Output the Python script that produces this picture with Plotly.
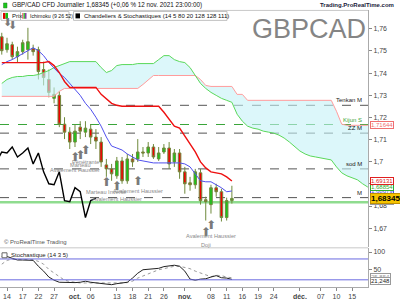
import plotly.graph_objects as go

# ---------------- DATA ----------------
# trading-day index: 0 = 14 sept. 2021 ... 43 = 12 nov. 2021
first_idx = -1
open_ = [1.75641,1.75058,1.75283,1.74744,1.74969,1.75058,1.75103,1.75058,1.74161,1.73713,
         1.72861,1.72996,1.71695,1.71336,1.70888,1.71561,1.71336,1.71471,1.71112,1.70888,
         1.69857,1.69677,1.69363,1.70036,1.69139,1.70126,1.70126,1.70440,1.70395,1.70664,
         1.70126,1.70440,1.70619,1.69991,1.70395,1.69543,1.69049,1.68960,1.69498,1.68287,
         1.68063,1.68825,1.68646,1.67480,1.68244]
high = [1.75821,1.75596,1.75417,1.75193,1.75507,1.76045,1.75283,1.75193,1.74520,1.74161,
        1.73354,1.73175,1.72009,1.71561,1.71695,1.71830,1.71830,1.71695,1.71471,1.71112,
        1.70126,1.69901,1.70215,1.70215,1.70350,1.70350,1.71022,1.70664,1.70888,1.70798,
        1.70664,1.70798,1.70888,1.70574,1.70574,1.69767,1.69318,1.69677,1.69677,1.68422,
        1.68960,1.69004,1.68780,1.68377,1.68915]
low = [1.74834,1.74924,1.74610,1.74475,1.74834,1.74610,1.74789,1.73713,1.73444,1.72906,
       1.72637,1.71561,1.71022,1.70574,1.70664,1.71022,1.71112,1.70798,1.70574,1.69767,
       1.69318,1.69139,1.69229,1.69004,1.69004,1.69767,1.69991,1.70215,1.70215,1.70126,
       1.70036,1.70350,1.69677,1.69767,1.69229,1.68556,1.68691,1.68780,1.68063,1.67345,
       1.67659,1.68422,1.67300,1.67345,1.68108]
close = [1.75013,1.75327,1.74744,1.74969,1.75372,1.75417,1.74969,1.74072,1.73803,1.73130,
         1.73040,1.71695,1.71336,1.70888,1.71381,1.71381,1.71516,1.71112,1.70933,1.69991,
         1.69677,1.69453,1.70036,1.69139,1.70126,1.69991,1.70440,1.70395,1.70664,1.70215,
         1.70395,1.70619,1.69901,1.70395,1.69543,1.69004,1.68960,1.69543,1.68242,1.68197,
         1.68825,1.68646,1.67480,1.68244,1.68345]

tenkan = [1.74386,1.74520,1.74610,1.74744,1.74879,1.75013,1.75148,1.75013,1.74789,1.74475,
          1.74206,1.73982,1.73803,1.73534,1.73265,1.72996,1.72637,1.72368,1.72009,1.71605,
          1.71112,1.70709,1.70619,1.70529,1.70350,1.70215,1.70081,1.70036,1.69991,1.69946,
          1.69946,1.69946,1.69946,1.69946,1.69946,1.69901,1.69767,1.69453,1.69139,1.69094,
          1.69094,1.68960,1.68825,1.68646,1.68679]
kijun = [1.74475]*9 + [1.74520,1.74341,1.74027,1.73623,1.73354] + [1.73354]*5 + \
        [1.73040,1.72816,1.72637,1.72547] + [1.72502]*8 + \
        [1.72233,1.71919,1.71605,1.71516,1.71157,1.70843,1.70440,1.69991,1.69722,1.69543,
         1.69498,1.69453,1.69318,1.69131]
senkou_a = [1.73534,1.73713,1.73803,1.73848,1.73848,1.73892,1.73892,1.73937,1.74027,1.74117,
            1.74251,1.74341,1.74430,1.74520,1.74520,1.74520,1.74520,1.74520,1.74520,1.74251,
            1.74027,1.74117,1.74341,1.74386,1.74386,1.74386,1.74430,1.74430,1.74430,1.74430,
            1.74610,1.74789,1.74789,1.74610,1.74520,1.74475,1.74251,1.73892,1.73534,1.73309,
            1.73130,1.72996,1.72861,1.72771,1.72682,1.72144,1.71830,1.71605,1.71516,1.71471,
            1.71381,1.71336,1.71291,1.71202,1.71067,1.70888,1.70664,1.70484,1.70350,1.70260,
            1.70215,1.70170,1.70126,1.70081,1.69767,1.69498,1.69363,1.69274,1.69184,1.69004,
            1.68854]
senkou_b = [1.72951]*11 + [1.73175] + [1.73309]*15 + [1.73489,1.73713] + [1.73892]*9 + \
           [1.73713,1.73444] + [1.73399]*5 + [1.73040,1.73040] + [1.72771]*17 + \
           [1.72278,1.71695] + [1.71644]*5

stoch_k = [87,87,82,77,77,77,76,59,45,28,19,13,12,11,12,13,16,13,11,9,8,6,9,11,13,25,39,49,
           51,53,53,58,59,62,59,45,22,19,22,23,28,32,26,25,21.248]
stoch_d = [65,76,79,79,79,79,78,73,65,50,39,28,19,15,12,11,11,11,11,10,9,9,9,11,12,16,25,31,
           36,43,49,52,55,59,59,56,52,45,39,33,29,33,32,28,25.854]
chikou_shift = 26
stoch_levels = [80, 20]

# horizontal levels
level_prices = [1.72547, 1.71680, 1.71291, 1.69677, 1.68380]
level_labels = ["Tenkan M", "Kijun S", "ZZ M", "sod M", "M"]
support_price = 1.68175

# candle pattern signals
sig_idx = [13, 14, 15, 19, 21, 25, 38, 39]
sig_price = [1.7017, 1.7026, 1.7048, 1.6905, 1.6887, 1.6909, 1.6676, 1.6708]
sig_label = ["Avalement Haussier", "Marteau", "Pénétrante", "Marteau Inversé",
             "Avalement Haussier", "Avalement Haussier", "Doji", "Avalement Haussier"]
down_idx = [0, 1]
down_price = [1.7627, 1.7613]

xtick_idx = [0, 3, 6, 9, 13, 16, 21, 24, 27, 30, 34, 39, 42, 45, 48, 51, 56, 60, 63, 66]
xtick_txt = ["14", "17", "22", "27", "<b>oct.</b>", "06", "13", "18", "21", "26", "<b>nov.</b>",
             "08", "11", "16", "19", "24", "<b>déc.</b>", "07", "10", "15"]
ytick_vals = [1.67, 1.68, 1.69, 1.70, 1.71, 1.72, 1.73, 1.74, 1.75, 1.76]
ytick_txt = ["1,67", "1,68", "1,69", "1,7", "1,71", "1,72", "1,73", "1,74", "1,75", "1,76"]

# ---------------- LAYOUT HELPERS ----------------
W, H = 400, 300
def px(x): return x / W
def py(y): return 1 - y / H

FONT = "Liberation Sans, Arial, sans-serif"
n = len(close)
idx = list(range(first_idx, first_idx + n))
idx_cloud = list(range(first_idx, first_idx + len(senkou_a)))
idx_chikou = [i - chikou_shift for i in idx]

def fmt(v, d=5):
    return f"{v:.{d}f}".replace(".", ",")

fig = go.Figure()

# cloud
fig.add_trace(go.Scatter(x=idx_cloud, y=senkou_b, mode="lines",
                         line=dict(color="#ff9c9c", width=1), hoverinfo="skip"))
fig.add_trace(go.Scatter(x=idx_cloud, y=senkou_a, mode="lines", fill="tonexty",
                         fillcolor="rgba(196,242,247,0.6)",
                         line=dict(color="#5ad85a", width=1), hoverinfo="skip"))
# chikou
fig.add_trace(go.Scatter(x=idx_chikou, y=close, mode="lines",
                         line=dict(color="#000000", width=1.4)))
# tenkan / kijun
fig.add_trace(go.Scatter(x=idx, y=tenkan, mode="lines", line=dict(color="#5050ee", width=1)))
fig.add_trace(go.Scatter(x=idx, y=kijun, mode="lines", line=dict(color="#ee1010", width=1.4)))
# candles
fig.add_trace(go.Candlestick(
    x=idx, open=open_, high=high, low=low, close=close,
    increasing=dict(line=dict(color="#6f8a3c", width=1), fillcolor="#18c818"),
    decreasing=dict(line=dict(color="#6f8a3c", width=1), fillcolor="#f00000"),
    whiskerwidth=0))
# signals
fig.add_trace(go.Scatter(x=sig_idx, y=sig_price, mode="text", text=["⬆"] * len(sig_idx),
                         textfont=dict(family="DejaVu Sans", size=12, color="#7a7a7a")))
# stochastic
fig.add_trace(go.Scatter(x=idx, y=stoch_d, mode="lines", xaxis="x2", yaxis="y2",
                         line=dict(color="#999999", width=1, dash="dot")))
fig.add_trace(go.Scatter(x=idx, y=stoch_k, mode="lines", xaxis="x2", yaxis="y2",
                         line=dict(color="#222222", width=1)))

xr = [-1.338, 69.025]
fig.update_layout(
    width=W, height=H, margin=dict(l=0, r=0, t=0, b=0),
    paper_bgcolor="white", plot_bgcolor="white", showlegend=False,
    font=dict(family=FONT, size=7, color="#333"),
    xaxis=dict(domain=[0, 0.92], range=xr, showticklabels=False, showgrid=False,
               zeroline=False, rangeslider=dict(visible=False), anchor="y", showline=False),
    yaxis=dict(domain=[py(249), py(10.5)], range=[1.66135, 1.76830], side="right",
               anchor="x", tickvals=ytick_vals, ticktext=ytick_txt, ticks="outside",
               ticklen=3, tickcolor="#888", showgrid=False, zeroline=False, showline=True,
               linecolor="#aaa", linewidth=1, tickfont=dict(size=7, color="#444")),
    xaxis2=dict(domain=[0, 0.92], range=xr, anchor="y2", tickvals=xtick_idx,
                ticktext=xtick_txt, ticks="outside", ticklen=3, tickcolor="#888",
                showgrid=False, zeroline=False, showline=True, linecolor="#aaa",
                tickfont=dict(size=7, color="#444")),
    yaxis2=dict(domain=[py(289), py(250)], range=[-0.86, 110.57], side="right",
                anchor="x2", tickvals=[50, 100], ticktext=["50", "100"], ticks="outside",
                ticklen=3, tickcolor="#888", showgrid=False, zeroline=False, showline=True,
                linecolor="#aaa", tickfont=dict(size=7, color="#444")),
)

shapes = []
# pane frame lines
shapes.append(dict(type="line", xref="paper", yref="paper", x0=0, x1=0.92,
                   y0=py(10.5), y1=py(10.5), line=dict(color="#c8c8c8", width=1)))
shapes.append(dict(type="line", xref="paper", yref="paper", x0=0, x1=0.92,
                   y0=py(249.5), y1=py(249.5), line=dict(color="#c8c8c8", width=1)))
# support line
shapes.append(dict(type="line", xref="paper", yref="y", x0=0, x1=0.92,
                   y0=support_price, y1=support_price, layer="below",
                   line=dict(color="#8fdc8f", width=2.5)))
# dashed levels
for p, lab in zip(level_prices, level_labels):
    col = "#3aa53a" if lab.endswith("S") else "#555555"
    shapes.append(dict(type="line", xref="paper", yref="y", x0=0, x1=0.92, y0=p, y1=p,
                       layer="below", line=dict(color=col, width=1, dash="dash")))
# stochastic levels
for lv in stoch_levels:
    shapes.append(dict(type="line", xref="paper", yref="y2", x0=0, x1=0.92, y0=lv, y1=lv,
                       line=dict(color="#6a6ae0", width=1)))
# legend boxes
for x0, x1 in [(1, 20.5), (20.5, 69), (73.5, 227)]:
    shapes.append(dict(type="rect", xref="paper", yref="paper", x0=px(x0), x1=px(x1),
                       y0=py(20.5), y1=py(11.5), line=dict(color="#c0c0c0", width=1),
                       fillcolor="rgba(255,255,255,0.85)"))
# legend icons
shapes += [
    dict(type="rect", xref="paper", yref="paper", x0=px(3), x1=px(5.5), y0=py(19), y1=py(13),
         fillcolor="#e00000", line=dict(width=0)),
    dict(type="rect", xref="paper", yref="paper", x0=px(5.5), x1=px(8), y0=py(19), y1=py(13),
         fillcolor="#10c010", line=dict(width=0)),
    dict(type="rect", xref="paper", yref="paper", x0=px(22), x1=px(23.5), y0=py(19), y1=py(13),
         fillcolor="#ff8080", line=dict(width=0)),
    dict(type="rect", xref="paper", yref="paper", x0=px(23.5), x1=px(25), y0=py(19), y1=py(13),
         fillcolor="#40c040", line=dict(width=0)),
    dict(type="rect", xref="paper", yref="paper", x0=px(25), x1=px(26.5), y0=py(19), y1=py(13),
         fillcolor="#8040a0", line=dict(width=0)),
    dict(type="rect", xref="paper", yref="paper", x0=px(75.5), x1=px(80), y0=py(18.5), y1=py(13.5),
         fillcolor="#000000", line=dict(width=0)),
    # header candle icon
    dict(type="rect", xref="paper", yref="paper", x0=px(3.5), x1=px(7), y0=py(8), y1=py(3),
         fillcolor="#18c818", line=dict(color="#2a7a2a", width=0.5)),
    # stochastic legend icon
    dict(type="rect", xref="paper", yref="paper", x0=px(2), x1=px(7), y0=py(259.5), y1=py(254.5),
         fillcolor="#ffffff", line=dict(color="#666", width=1)),
]
fig.update_layout(shapes=shapes)

ann = []
def A(**k):
    base = dict(showarrow=False, font=dict(family=FONT, size=6.5, color="#222"))
    base.update(k)
    ann.append(base)

# header
A(x=px(10), y=py(5), xref="paper", yref="paper", xanchor="left", yanchor="middle",
  text=f"GBP/CAD CFD Journalier {fmt(close[-1])} (+0,06 % 12 nov. 2021 23:00:00)",
  font=dict(family=FONT, size=6.3, color="#111"))
A(x=px(396), y=py(5), xref="paper", yref="paper", xanchor="right", yanchor="middle",
  text="<b>Trading.ProRealTime.com</b>", font=dict(family=FONT, size=6, color="#1a1a3a"))
# legend texts
A(x=px(9.5), y=py(16), xref="paper", yref="paper", xanchor="left", yanchor="middle", text="Prix",
  font=dict(family=FONT, size=6, color="#111"))
A(x=px(27.5), y=py(16), xref="paper", yref="paper", xanchor="left", yanchor="middle",
  text="Ichimoku (9 26 52)", font=dict(family=FONT, size=5.2, color="#111"))
A(x=px(81.5), y=py(16), xref="paper", yref="paper", xanchor="left", yanchor="middle",
  text="Chandeliers & Stochastiques (14 5 80 20 128 128 111)",
  font=dict(family=FONT, size=6, color="#111"))
# bearish signal arrows near the legend (drawn above the legend boxes)
for i, p in zip(down_idx, down_price):
    A(x=i, y=p, xref="x", yref="y", xanchor="center", yanchor="middle", text="⬇",
      font=dict(family="DejaVu Sans", size=11, color="#7a7a7a"))
# watermark
A(x=px(309), y=py(29), xref="paper", yref="paper", xanchor="center", yanchor="middle",
  text="GBPCAD", font=dict(family=FONT, size=27, color="#858585"))
# footer / stochastic legend
A(x=px(2), y=py(243.5), xref="paper", yref="paper", xanchor="left", yanchor="middle",
  text="© ProRealTime Trading", font=dict(family=FONT, size=6, color="#555"))
A(x=px(8.5), y=py(257), xref="paper", yref="paper", xanchor="left", yanchor="middle",
  text="Stochastique (14 3 5)", font=dict(family=FONT, size=6, color="#222"))
# level labels
for p, lab in zip(level_prices, level_labels):
    col = "#3aa53a" if lab.endswith("S") else "#222"
    A(x=px(364), y=p, xref="paper", yref="y", xanchor="right", yanchor="bottom", yshift=0,
      text=lab, font=dict(family=FONT, size=6, color=col))
# signal labels
lab_shift = [-12, -9, -11, -9, -12, -9, -11, -10]
for i, p, lab, s in zip(sig_idx, sig_price, sig_label, lab_shift):
    A(x=i, y=p, xref="x", yref="y", xanchor="center", yanchor="middle", yshift=s,
      text=lab, font=dict(family=FONT, size=5.6, color="#8a8a8a"))
# price boxes on the right axis
def box(val, txt, col, bg="white", size=6, yref="y", bold=False, bc=None):
    t = f"<b>{txt}</b>" if bold else txt
    A(x=px(370), y=val, xref="paper", yref=yref, xanchor="left", yanchor="middle",
      text=t, bgcolor=bg, bordercolor=bc or col, borderwidth=1, borderpad=0,
      font=dict(family=FONT, size=size, color=col if bg == "white" else "#000"))

box(close[-2], fmt(close[-2]), "#999999")
box(tenkan[-1], fmt(tenkan[-1]), "#4a4ae8")
box(senkou_a[-1], fmt(senkou_a[-1]), "#30b030")
box(kijun[-1], fmt(kijun[-1]), "#e02020")
box(senkou_b[-1], fmt(senkou_b[-1]), "#f07070")
box(close[-1], fmt(close[-1]), "#000", bg="#f5c400", size=8, bold=True, bc="#c09000")
box(stoch_d[-1] + 1.5, fmt(stoch_d[-1], 3), "#999999", yref="y2")
box(stoch_k[-1] - 5, fmt(stoch_k[-1], 3), "#222222", yref="y2", bc="#999999")

fig.update_layout(annotations=ann)
fig.write_html("out.html")
